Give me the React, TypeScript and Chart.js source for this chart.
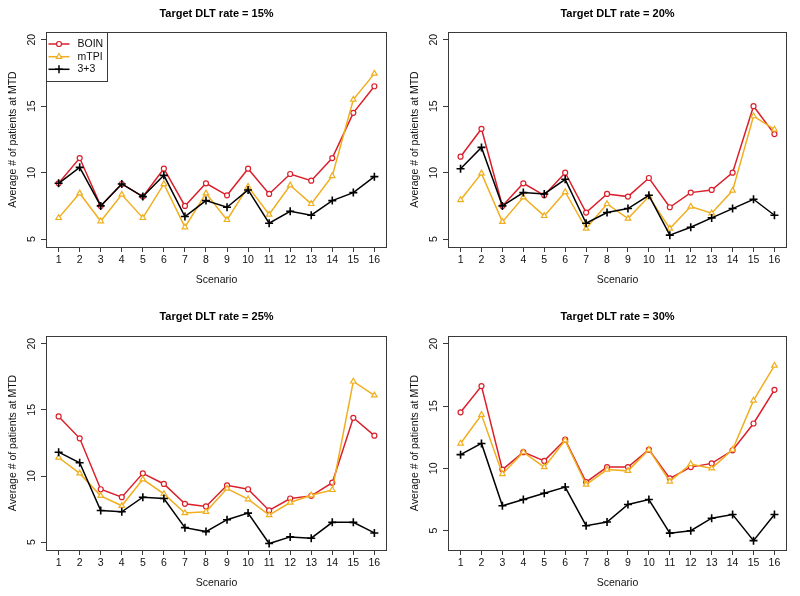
import React, { useEffect, useRef } from 'react';
import { Chart, registerables } from 'chart.js';

Chart.register(...registerables);

// ---------------- data ----------------
const scenarios = [1, 2, 3, 4, 5, 6, 7, 8, 9, 10, 11, 12, 13, 14, 15, 16];
const yTickValues = [5, 10, 15, 20];
const titles = ['Target DLT rate = 15%', 'Target DLT rate = 20%', 'Target DLT rate = 25%', 'Target DLT rate = 30%'];
const seriesNames = ['BOIN', 'mTPI', '3+3'];
const yLabel = 'Average # of patients at MTD';
const xLabel = 'Scenario';

const boin15 = [9.2, 11.1, 7.5, 9.15, 8.2, 10.3, 7.5, 9.2, 8.3, 10.3, 8.4, 9.9, 9.4, 11.1, 14.5, 16.5];
const mtpi15 = [6.6, 8.45, 6.35, 8.35, 6.6, 9.15, 5.9, 8.45, 6.45, 8.95, 6.85, 9.05, 7.65, 9.75, 15.5, 17.45];
const tt15 = [9.2, 10.4, 7.5, 9.15, 8.2, 9.8, 6.7, 7.9, 7.4, 8.7, 6.2, 7.1, 6.8, 7.9, 8.5, 9.7];

const boin20 = [11.2, 13.3, 7.5, 9.2, 8.3, 10.0, 7.0, 8.4, 8.2, 9.6, 7.4, 8.5, 8.7, 10.0, 15.0, 12.9];
const mtpi20 = [7.95, 9.95, 6.3, 8.15, 6.75, 8.55, 5.8, 7.65, 6.55, 8.2, 5.8, 7.45, 6.95, 8.65, 14.25, 13.25];
const tt20 = [10.3, 11.9, 7.5, 8.5, 8.4, 9.5, 6.2, 7.0, 7.3, 8.3, 5.3, 5.9, 6.6, 7.3, 8.0, 6.8];

const boin25 = [14.5, 12.85, 9.0, 8.4, 10.2, 9.4, 7.9, 7.7, 9.3, 9.0, 7.4, 8.3, 8.5, 9.5, 14.4, 13.05];
const mtpi25 = [11.4, 10.2, 8.5, 7.75, 9.75, 8.65, 7.2, 7.3, 9.05, 8.25, 7.05, 8.0, 8.55, 8.95, 17.15, 16.1];
const tt25 = [11.8, 11.0, 7.4, 7.3, 8.4, 8.3, 6.1, 5.8, 6.7, 7.2, 4.9, 5.4, 5.3, 6.5, 6.5, 5.7];

const boin30 = [14.5, 16.6, 9.9, 11.3, 10.6, 12.3, 8.9, 10.1, 10.1, 11.5, 9.2, 10.1, 10.4, 11.45, 13.6, 16.3];
const mtpi30 = [12.0, 14.3, 9.55, 11.3, 10.1, 12.25, 8.7, 9.9, 9.8, 11.5, 8.95, 10.35, 10.0, 11.5, 15.45, 18.25];
const tt30 = [11.1, 12.0, 7.0, 7.5, 8.0, 8.5, 5.4, 5.7, 7.1, 7.5, 4.8, 5.0, 6.0, 6.3, 4.2, 6.3];

const yMins = [4.41, 4.41, 4.41, 3.45];
const yMaxs = [20.58, 20.58, 20.58, 20.62];
const xMin = 0.4;
const xMax = 16.6;

// ---------------- style / layout ----------------
const RED = '#DA1F2B';
const ORANGE = '#F0AE1E';
const BLACK = '#000000';
const FONT = '"Liberation Sans", Arial, Helvetica, sans-serif';
const W = 400;
const H = 298;

type Area = { l: number; r: number; t: number; b: number };
type Layout = { x: number; y: number; area: Area; titleY: number; scenY: number; yLabX: number; legend: boolean };

const layouts: Layout[] = [
  { x: 0, y: 0, area: { l: 46, r: 387, t: 32, b: 247 }, titleY: 13.5, scenY: 280.5, yLabX: 13.5, legend: true },
  { x: 400, y: 0, area: { l: 48, r: 387, t: 32, b: 247 }, titleY: 13.5, scenY: 280.5, yLabX: 15.5, legend: false },
  { x: 0, y: 298, area: { l: 46, r: 387, t: 38, b: 252 }, titleY: 18.5, scenY: 285.5, yLabX: 13.5, legend: false },
  { x: 400, y: 298, area: { l: 48, r: 387, t: 38, b: 252 }, titleY: 18.5, scenY: 285.5, yLabX: 15.5, legend: false },
];

const panelData = [
  [boin15, mtpi15, tt15],
  [boin20, mtpi20, tt20],
  [boin25, mtpi25, tt25],
  [boin30, mtpi30, tt30],
];

function drawSymbol(ctx: CanvasRenderingContext2D, kind: number, x: number, y: number) {
  ctx.save();
  if (kind === 0) {
    ctx.strokeStyle = RED;
    ctx.fillStyle = '#fff';
    ctx.lineWidth = 1.2;
    ctx.beginPath();
    ctx.arc(x, y, 2.5, 0, Math.PI * 2);
    ctx.fill();
    ctx.stroke();
  } else if (kind === 1) {
    const r = 3.2;
    ctx.strokeStyle = ORANGE;
    ctx.fillStyle = '#fff';
    ctx.lineWidth = 1.2;
    ctx.beginPath();
    for (let i = 0; i < 3; i++) {
      const a = (i * 2 * Math.PI) / 3;
      const px = x + Math.sin(a) * r;
      const py = y - Math.cos(a) * r;
      if (i === 0) ctx.moveTo(px, py);
      else ctx.lineTo(px, py);
    }
    ctx.closePath();
    ctx.fill();
    ctx.stroke();
  } else {
    ctx.strokeStyle = BLACK;
    ctx.lineWidth = 1.5;
    ctx.beginPath();
    ctx.moveTo(x - 4, y);
    ctx.lineTo(x + 4, y);
    ctx.moveTo(x, y - 4);
    ctx.lineTo(x, y + 4);
    ctx.stroke();
  }
  ctx.restore();
}

function makeDecor(idx: number) {
  const lay = layouts[idx];
  return {
    id: 'decor' + idx,
    afterDraw(chart: any) {
      const ctx: CanvasRenderingContext2D = chart.ctx;
      const a = chart.chartArea;
      ctx.save();
      // box
      ctx.strokeStyle = '#3a3a3a';
      ctx.lineWidth = 1;
      ctx.strokeRect(a.left + 0.5, a.top + 0.5, a.right - a.left - 1, a.bottom - a.top);
      // title
      ctx.fillStyle = '#000';
      ctx.textAlign = 'center';
      ctx.textBaseline = 'middle';
      ctx.font = 'bold 11px ' + FONT;
      ctx.fillText(titles[idx], (a.left + a.right) / 2, lay.titleY);
      // x label
      ctx.font = '10.5px ' + FONT;
      ctx.fillStyle = '#111';
      ctx.fillText(xLabel, (a.left + a.right) / 2, lay.scenY);
      // y label
      ctx.save();
      ctx.translate(lay.yLabX, (a.top + a.bottom) / 2);
      ctx.rotate(-Math.PI / 2);
      ctx.fillText(yLabel, 0, 0);
      ctx.restore();
      // legend
      if (lay.legend) {
        const lx = a.left;
        const ly = a.top;
        ctx.strokeStyle = '#3a3a3a';
        ctx.lineWidth = 1;
        ctx.strokeRect(lx + 0.5, ly + 0.5, 61, 49);
        const rows = [44, 56.7, 69.3];
        const cols = [RED, ORANGE, BLACK];
        for (let i = 0; i < 3; i++) {
          const yy = rows[i];
          ctx.strokeStyle = cols[i];
          ctx.lineWidth = 1.5;
          ctx.beginPath();
          ctx.moveTo(lx + 2.5, yy);
          ctx.lineTo(lx + 23.5, yy);
          ctx.stroke();
          drawSymbol(ctx, i, lx + 13, yy);
          ctx.fillStyle = '#111';
          ctx.textAlign = 'left';
          ctx.textBaseline = 'middle';
          ctx.font = '10.5px ' + FONT;
          ctx.fillText(seriesNames[i], lx + 31.5, yy);
        }
      }
      ctx.restore();
    },
  };
}

function Panel({ idx }: { idx: number }) {
  const ref = useRef<HTMLCanvasElement>(null);
  useEffect(() => {
    const lay = layouts[idx];
    const [boin, mtpi, tt] = panelData[idx];
    const toPts = (arr: number[]) => scenarios.map((s, i) => ({ x: s, y: arr[i] }));
    const tickFont = { family: FONT, size: 10.5 };
    const chart = new Chart(ref.current as HTMLCanvasElement, {
      type: 'line',
      data: {
        datasets: [
          {
            label: seriesNames[2],
            data: toPts(tt),
            borderColor: BLACK,
            borderWidth: 1.5,
            pointStyle: 'cross',
            pointRadius: 4,
            pointBorderWidth: 1.6,
            pointBorderColor: BLACK,
            pointBackgroundColor: BLACK,
            tension: 0,
            fill: false,
            order: 0,
          },
          {
            label: seriesNames[1],
            data: toPts(mtpi),
            borderColor: ORANGE,
            borderWidth: 1.5,
            pointStyle: 'triangle',
            pointRadius: 3.2,
            pointBorderWidth: 1.2,
            pointBorderColor: ORANGE,
            pointBackgroundColor: '#fff',
            tension: 0,
            fill: false,
            order: 1,
          },
          {
            label: seriesNames[0],
            data: toPts(boin),
            borderColor: RED,
            borderWidth: 1.5,
            pointStyle: 'circle',
            pointRadius: 2.5,
            pointBorderWidth: 1.2,
            pointBorderColor: RED,
            pointBackgroundColor: '#fff',
            tension: 0,
            fill: false,
            order: 2,
          },
        ],
      } as any,
      options: {
        responsive: false,
        animation: false,
        events: [],
        layout: {
          autoPadding: false,
          padding: { left: 0, top: lay.area.t, right: W - lay.area.r, bottom: 0 },
        },
        plugins: {
          legend: { display: false },
          title: { display: false },
          tooltip: { enabled: false },
        },
        scales: {
          x: {
            type: 'linear',
            min: xMin,
            max: xMax,
            afterBuildTicks: (ax: any) => {
              ax.ticks = scenarios.map((v) => ({ value: v }));
            },
            afterFit: (ax: any) => {
              ax.height = H - lay.area.b;
            },
            grid: { drawOnChartArea: false, drawTicks: true, tickLength: 5, color: '#3a3a3a', lineWidth: 1 },
            border: { display: false },
            ticks: {
              font: tickFont,
              color: '#111',
              padding: 1.5,
              maxRotation: 0,
              minRotation: 0,
              autoSkip: false,
              callback: (v: any) => String(v),
            },
          },
          y: {
            type: 'linear',
            min: yMins[idx],
            max: yMaxs[idx],
            afterBuildTicks: (ax: any) => {
              ax.ticks = yTickValues.map((v) => ({ value: v }));
            },
            afterFit: (ax: any) => {
              ax.width = lay.area.l;
            },
            grid: { drawOnChartArea: false, drawTicks: true, tickLength: 5, color: '#3a3a3a', lineWidth: 1 },
            border: { display: false },
            ticks: {
              font: tickFont,
              color: '#111',
              padding: 3,
              minRotation: 90,
              maxRotation: 90,
              crossAlign: 'center',
              autoSkip: false,
              callback: (v: any) => String(v),
            },
          },
        },
      } as any,
      plugins: [makeDecor(idx)],
    });
    return () => chart.destroy();
  }, [idx]);
  const lay = layouts[idx];
  return (
    <canvas
      ref={ref}
      width={W}
      height={H}
      style={{ position: 'absolute', left: lay.x, top: lay.y, width: W, height: H }}
    />
  );
}

export default function App() {
  return (
    <div style={{ position: 'absolute', left: 0, top: 0, width: 800, height: 596, background: '#fff' }}>
      {[0, 1, 2, 3].map((i) => (
        <Panel key={i} idx={i} />
      ))}
    </div>
  );
}
